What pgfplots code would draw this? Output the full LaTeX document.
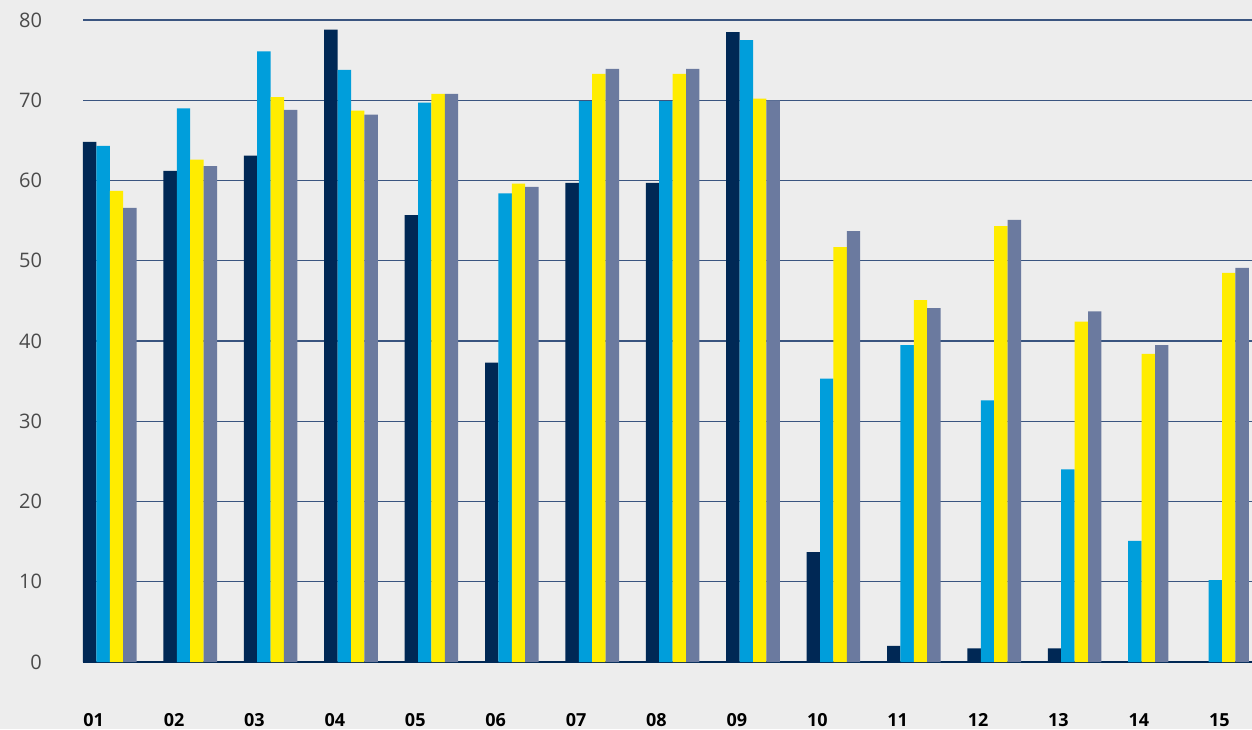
\documentclass[border=0pt]{standalone}
\usepackage{pgfplots}
\pgfplotsset{compat=1.18}
\usepackage{fontspec}
\setmainfont{Open Sans}
\definecolor{bg}{HTML}{EDEDED}
\definecolor{navy}{HTML}{002855}
\definecolor{sky}{HTML}{009EDB}
\definecolor{yel}{HTML}{FFEC00}
\definecolor{slate}{HTML}{6B7A9F}
\definecolor{gridc}{HTML}{3A5580}
\definecolor{tick}{HTML}{4A4A4A}
\begin{document}
\begin{tikzpicture}
\fill[bg] (0,0) rectangle (626pt,364.5pt);
\useasboundingbox (0,0) rectangle (626pt,364.5pt);
\begin{axis}[
  at={(41.5pt,33.5pt)}, anchor=south west,
  scale only axis, width=584.5pt, height=321pt,
  xmin=1, xmax=15.54, ymin=0, ymax=80,
  /pgf/number format/assume math mode=true,
  axis line style={draw=none},
  major tick length=0pt,
  ytick={0,10,...,80},
  ymajorgrids, grid style={gridc, line width=0.7pt},
  extra y ticks={0}, extra y tick labels={},
  extra y tick style={grid style={navy, line width=0.8pt}},
  xtick={1,...,15},
  xticklabels={01,02,03,04,05,06,07,08,09,10,11,12,13,14,15},
  xticklabel style={anchor=north west, inner sep=0pt, yshift=-25.5pt, font=\fontsize{9}{10}\selectfont\bfseries, text=black},
  yticklabel style={font=\fontsize{10}{11}\selectfont, text=tick, xshift=-17pt},
  clip=false,
]
\addplot[ybar, bar width=0.16667, bar shift=0.08333, fill=navy, draw=none] coordinates {
(1,64.8) (2,61.2) (3,63.1) (4,78.8) (5,55.7) (6,37.3) (7,59.7) (8,59.7) (9,78.5) (10,13.7) (11,2.0) (12,1.7) (13,1.7)};
\addplot[ybar, bar width=0.16667, bar shift=0.25, fill=sky, draw=none] coordinates {
(1,64.3) (2,69.0) (3,76.1) (4,73.8) (5,69.7) (6,58.4) (7,69.9) (8,69.9) (9,77.5) (10,35.3) (11,39.5) (12,32.6) (13,24.0)};
\addplot[ybar, bar width=0.16667, bar shift=0.41667, fill=yel, draw=none] coordinates {
(1,58.7) (2,62.6) (3,70.4) (4,68.7) (5,70.8) (6,59.6) (7,73.3) (8,73.3) (9,70.2) (10,51.7) (11,45.1) (12,54.3) (13,42.4)};
\addplot[ybar, bar width=0.16667, bar shift=0.58333, fill=slate, draw=none] coordinates {
(1,56.6) (2,61.8) (3,68.8) (4,68.2) (5,70.8) (6,59.2) (7,73.9) (8,73.9) (9,70.0) (10,53.7) (11,44.1) (12,55.1) (13,43.7)};
% groups 14 and 15: no first series, bars start at group start
\addplot[ybar, bar width=0.16667, bar shift=0.08333, fill=sky, draw=none] coordinates {(14,15.1) (15,10.2)};
\addplot[ybar, bar width=0.16667, bar shift=0.25, fill=yel, draw=none] coordinates {(14,38.4) (15,48.5)};
\addplot[ybar, bar width=0.16667, bar shift=0.41667, fill=slate, draw=none] coordinates {(14,39.5) (15,49.1)};
\end{axis}
\end{tikzpicture}
\end{document}
